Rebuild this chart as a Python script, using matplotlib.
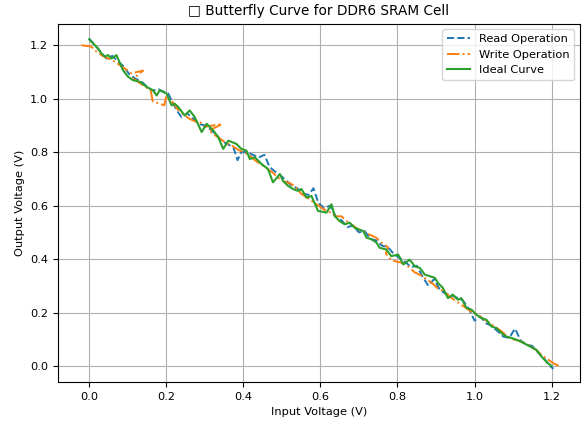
import matplotlib
matplotlib.use("Agg")
import matplotlib.pyplot as plt

plt.rcParams['font.size'] = 8.2

# Ideal curve
ideal_x = [0.000, 0.010, 0.023, 0.032, 0.041, 0.049, 0.058, 0.071, 0.088, 0.101,
           0.114, 0.132, 0.149, 0.166, 0.175, 0.183, 0.192, 0.201, 0.214, 0.222,
           0.231, 0.248, 0.261, 0.274, 0.292, 0.305, 0.322, 0.335, 0.348, 0.361,
           0.382, 0.395, 0.408, 0.417, 0.430, 0.447, 0.464, 0.477, 0.495, 0.503,
           0.516, 0.529, 0.542, 0.551, 0.564, 0.577, 0.594, 0.616, 0.629, 0.637,
           0.650, 0.663, 0.676, 0.689, 0.711, 0.720, 0.733, 0.746, 0.754, 0.771,
           0.784, 0.802, 0.815, 0.832, 0.845, 0.858, 0.871, 0.884, 0.897, 0.905,
           0.918, 0.931, 0.944, 0.957, 0.966, 0.979, 0.992, 1.005, 1.018, 1.031,
           1.044, 1.057, 1.070, 1.083, 1.096, 1.109, 1.122, 1.135, 1.148, 1.161,
           1.174, 1.187, 1.200]
ideal_y = [1.222, 1.207, 1.188, 1.169, 1.157, 1.163, 1.150, 1.163, 1.106, 1.082,
           1.069, 1.063, 1.044, 1.031, 1.012, 1.031, 1.025, 1.019, 0.975, 0.981,
           0.969, 0.937, 0.956, 0.931, 0.875, 0.906, 0.881, 0.856, 0.812, 0.843,
           0.831, 0.812, 0.806, 0.774, 0.781, 0.756, 0.737, 0.687, 0.718, 0.693,
           0.674, 0.662, 0.655, 0.662, 0.630, 0.636, 0.580, 0.574, 0.605, 0.561,
           0.542, 0.530, 0.536, 0.517, 0.505, 0.480, 0.474, 0.461, 0.442, 0.436,
           0.411, 0.417, 0.380, 0.398, 0.373, 0.367, 0.342, 0.336, 0.330, 0.311,
           0.292, 0.254, 0.267, 0.248, 0.254, 0.217, 0.211, 0.192, 0.179, 0.173,
           0.148, 0.142, 0.123, 0.110, 0.105, 0.098, 0.090, 0.080, 0.070, 0.060,
           0.035, 0.015, 0.000]

# Read operation
read_x = [0.000, 0.015, 0.030, 0.045, 0.060, 0.075, 0.090, 0.105, 0.120, 0.135,
          0.150, 0.165, 0.180, 0.195, 0.205, 0.215, 0.228, 0.240, 0.255, 0.270,
          0.285, 0.300, 0.315, 0.330, 0.345, 0.360, 0.375, 0.385, 0.395, 0.410,
          0.425, 0.440, 0.455, 0.468, 0.480, 0.495, 0.510, 0.525, 0.540, 0.555,
          0.570, 0.582, 0.595, 0.610, 0.625, 0.640, 0.655, 0.670, 0.685, 0.700,
          0.715, 0.730, 0.745, 0.760, 0.775, 0.790, 0.805, 0.820, 0.835, 0.850,
          0.865, 0.880, 0.895, 0.910, 0.925, 0.940, 0.955, 0.970, 0.985, 1.000,
          1.015, 1.030, 1.045, 1.060, 1.075, 1.090, 1.105, 1.120, 1.135, 1.150,
          1.165, 1.180, 1.195, 1.205]
read_y = [1.225, 1.200, 1.175, 1.150, 1.160, 1.140, 1.120, 1.090, 1.075, 1.065,
          1.045, 1.030, 1.035, 1.025, 1.020, 0.990, 0.955, 0.930, 0.945, 0.925,
          0.905, 0.900, 0.885, 0.865, 0.840, 0.830, 0.815, 0.770, 0.800, 0.800,
          0.790, 0.780, 0.790, 0.745, 0.730, 0.715, 0.695, 0.675, 0.665, 0.645,
          0.640, 0.665, 0.610, 0.590, 0.600, 0.560, 0.545, 0.520, 0.525, 0.500,
          0.505, 0.475, 0.470, 0.450, 0.445, 0.420, 0.405, 0.390, 0.370, 0.375,
          0.335, 0.300, 0.325, 0.285, 0.270, 0.265, 0.255, 0.245, 0.215, 0.170,
          0.185, 0.160, 0.150, 0.130, 0.110, 0.105, 0.140, 0.095, 0.080, 0.075,
          0.050, 0.030, 0.000, -0.010]

# Write operation
write_x = [-0.020, 0.005, 0.020, 0.035, 0.050, 0.065, 0.080, 0.095, 0.110, 0.140,
           0.115, 0.130, 0.145, 0.160, 0.165, 0.195, 0.200, 0.215, 0.230, 0.245,
           0.260, 0.275, 0.290, 0.300, 0.345, 0.310, 0.325, 0.340, 0.355, 0.370,
           0.385, 0.400, 0.415, 0.430, 0.445, 0.460, 0.475, 0.490, 0.505, 0.520,
           0.535, 0.550, 0.565, 0.580, 0.595, 0.610, 0.625, 0.640, 0.655, 0.670,
           0.685, 0.700, 0.715, 0.730, 0.745, 0.760, 0.775, 0.770, 0.785, 0.800,
           0.815, 0.830, 0.845, 0.860, 0.875, 0.890, 0.905, 0.920, 0.935, 0.950,
           0.965, 0.980, 0.995, 1.010, 1.025, 1.040, 1.055, 1.070, 1.085, 1.100,
           1.115, 1.130, 1.145, 1.160, 1.175, 1.190, 1.205, 1.220]
write_y = [1.200, 1.195, 1.175, 1.160, 1.150, 1.140, 1.125, 1.110, 1.095, 1.105,
           1.075, 1.060, 1.045, 1.030, 0.990, 0.975, 1.010, 0.990, 0.960, 0.940,
           0.925, 0.915, 0.910, 0.895, 0.905, 0.880, 0.865, 0.850, 0.835, 0.825,
           0.810, 0.800, 0.790, 0.770, 0.755, 0.740, 0.725, 0.705, 0.690, 0.685,
           0.670, 0.645, 0.630, 0.615, 0.600, 0.585, 0.575, 0.560, 0.560, 0.540,
           0.525, 0.510, 0.500, 0.490, 0.480, 0.460, 0.445, 0.420, 0.395, 0.390,
           0.385, 0.370, 0.350, 0.340, 0.325, 0.310, 0.290, 0.280, 0.260, 0.245,
           0.230, 0.215, 0.200, 0.190, 0.175, 0.160, 0.145, 0.130, 0.110, 0.100,
           0.095, 0.085, 0.075, 0.060, 0.040, 0.025, 0.010, 0.000]

fig, ax = plt.subplots(figsize=(5.85, 4.25), dpi=100)
fig.subplots_adjust(left=0.099, right=0.991, top=0.944, bottom=0.101)

ax.plot(read_x, read_y, linestyle='--', linewidth=1.4, label='Read Operation')
ax.plot(write_x, write_y, linestyle='-.', linewidth=1.4, label='Write Operation')
ax.plot(ideal_x, ideal_y, linestyle='-', linewidth=1.5, label='Ideal Curve')

ax.set_xlim(-0.081, 1.273)
ax.set_ylim(-0.06, 1.28)
ax.set_xlabel('Input Voltage (V)')
ax.set_ylabel('Output Voltage (V)')
# the reference shows the title's leading symbol as an empty box
ax.set_title('\u25a1 Butterfly Curve for DDR6 SRAM Cell', fontsize=9.8)
ax.legend(loc='upper right')
ax.grid(True)

fig.savefig('out.png', dpi=100)
